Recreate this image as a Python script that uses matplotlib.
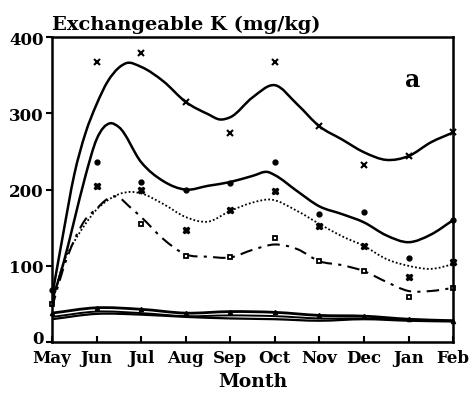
import numpy as np
import matplotlib
matplotlib.use("Agg")
import matplotlib.pyplot as plt
import matplotlib.transforms as mtrans
from matplotlib.path import Path
from matplotlib.patches import PathPatch

months = ["May", "Jun", "Jul", "Aug", "Sep", "Oct", "Nov", "Dec", "Jan", "Feb"]
nan = np.nan

# measured points (one per month)
top_marks = [nan, 368, 379, 315, 274, 368, 283, 232, 244, 275]
circ_marks = [68, 236, 210, 200, 209, 236, 168, 170, 110, 160]
star_marks = [nan, 205, 200, 147, 173, 198, 152, 126, 85, 105]
sq_marks = [50, nan, 155, 113, 111, 136, 106, 93, 59, 71]

# fitted curves (month index, value)
top_x = [0, 0.25, 0.5, 0.75, 1, 1.25, 1.5, 1.67, 2, 2.5, 3, 3.5, 3.77, 4, 4.5, 5, 5.5, 6, 6.5, 7, 7.5, 8, 8.5, 9]
top_y = [60, 142, 220, 274, 312, 342, 360, 366, 361, 342, 315, 299, 292, 295, 321, 337, 312, 283, 266, 249, 239, 244, 262, 275]

circ_x = [0, 0.25, 0.5, 0.75, 1, 1.3, 1.5, 2, 2.5, 3, 3.5, 4, 4.5, 4.85, 5, 5.5, 6, 6.5, 7, 7.5, 8, 8.5, 9]
circ_y = [55, 102, 160, 218, 266, 287, 282, 236, 211, 200, 205, 210, 218, 223, 219, 198, 178, 168, 157, 140, 131, 141, 160]

star_x = [0, 0.25, 0.5, 0.75, 1, 1.25, 1.5, 1.75, 2, 2.5, 3, 3.5, 4, 4.5, 4.9, 5.5, 6, 6.5, 7, 7.5, 8, 8.5, 9]
star_y = [50, 103, 132, 155, 174, 186, 194, 197, 195, 181, 164, 158, 172, 183, 187, 172, 155, 139, 126, 109, 100, 96, 102]

sq_x = [0, 0.25, 0.5, 0.75, 1, 1.25, 1.45, 1.75, 2, 2.5, 3, 3.5, 4, 4.5, 5, 5.5, 6, 6.5, 7, 7.5, 8, 8.5, 9]
sq_y = [45, 96, 134, 161, 175, 188, 191, 177, 164, 135, 115, 112, 111, 121, 128, 122, 106, 101, 93, 79, 67, 67, 71]

# low treatments near the bottom
low1 = [38, 45, 43, 38, 40, 39, 35, 34, 30, 28]
low2 = [33, 40, 38, 34, 35, 34, 31, 31, 29, 28]
low3 = [30, 37, 36, 33, 31, 30, 28, 30, 28, 27]


def smooth(ax, xs, ys, **kw):
    xs = np.asarray(xs, float)
    ys = np.asarray(ys, float)
    m = np.gradient(ys, xs)
    verts = [(xs[0], ys[0])]
    codes = [Path.MOVETO]
    for i in range(len(xs) - 1):
        h = xs[i + 1] - xs[i]
        verts += [(xs[i] + h / 3, ys[i] + m[i] * h / 3),
                  (xs[i + 1] - h / 3, ys[i + 1] - m[i + 1] * h / 3),
                  (xs[i + 1], ys[i + 1])]
        codes += [Path.CURVE4] * 3
    ax.add_patch(PathPatch(Path(verts, codes), fill=False, ec="black", **kw))


fig = plt.figure(figsize=(4.73, 4.06), dpi=100)
ax = fig.add_axes([0.110, 0.155, 0.848, 0.751])
font = {"family": "DejaVu Serif", "weight": "bold"}
idx = np.arange(len(months))

smooth(ax, top_x, top_y, lw=1.8)
smooth(ax, circ_x, circ_y, lw=1.8)
smooth(ax, star_x, star_y, lw=1.3, ls=(0, (1, 1.2)))
smooth(ax, sq_x, sq_y, lw=1.5, ls=(0, (6, 3, 1.5, 3)))
smooth(ax, idx, low1, lw=2.0)
smooth(ax, idx, low2, lw=1.4)
smooth(ax, idx, low3, lw=1.6)

ax.plot(idx, top_marks, "x", color="k", ms=4, mew=1.5, clip_on=False)
ax.plot(idx, circ_marks, "o", color="k", ms=3.5, clip_on=False)
ax.plot(idx, star_marks, "X", color="k", ms=4.5, clip_on=False)
ax.plot(idx, sq_marks, "s", mfc="white", mec="k", ms=3.5, mew=1.3, clip_on=False)
ax.plot(idx, low1, "^", color="k", ms=3, clip_on=False)

ax.set_xlim(0, 9)
ax.set_ylim(0, 400)
ax.set_xticks(idx)
ax.set_xticklabels(months, fontdict=font, fontsize=12)
ax.set_yticks([0, 100, 200, 300, 400])
ax.set_yticklabels(["0", "100", "200", "300", "400"], fontdict=font, fontsize=12)
ax.tick_params(axis="x", direction="in", length=4, width=1.5, pad=5)
ax.tick_params(axis="y", direction="out", length=4, width=1.5, pad=2)
# lift the "0" a little, as in the original, so it clears "May"
zero = ax.get_yticklabels()[0]
zero.set_transform(zero.get_transform() + mtrans.ScaledTranslation(0, 4 / 72, fig.dpi_scale_trans))
for s in ax.spines.values():
    s.set_linewidth(1.8)

ax.set_xlabel("Month", fontdict=font, fontsize=13.5, labelpad=4)
fig.text(0.11, 0.926, "Exchangeable K (mg/kg)", fontdict=font, fontsize=14, va="baseline")
ax.text(8.1, 345, "a", fontdict=font, fontsize=17, ha="center", va="center")

fig.savefig("out.png", dpi=100)
